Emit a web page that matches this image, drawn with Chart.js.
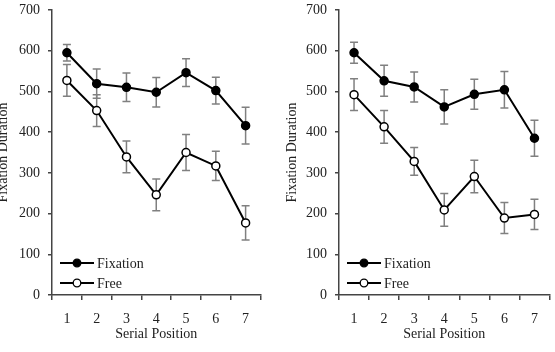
<!DOCTYPE html>
<html>
<head>
<meta charset="utf-8">
<script src="https://cdn.jsdelivr.net/npm/chart.js@4.4.1/dist/chart.umd.min.js"></script>
<style>
  body { margin: 0; background: #fff; width: 555px; height: 352px; overflow: hidden; position: relative; }
  canvas { position: absolute; top: 0; }
  #leftChart { left: -4px; }
  #rightChart { left: 285px; }
</style>
</head>
<body>
<canvas id="leftChart" width="270" height="352"></canvas>
<canvas id="rightChart" width="270" height="352"></canvas>
<script>
// Data
const positions = ['1', '2', '3', '4', '5', '6', '7'];
const yTicks = [0, 100, 200, 300, 400, 500, 600, 700];

const leftFixation = [595, 519, 510, 498, 546, 502, 416];
const leftFixationErr = [20, 36, 35, 36, 34, 33, 45];
const leftFree = [527, 453, 339, 246, 350, 317, 177];
const leftFreeErr = [39, 39, 39, 39, 44, 36, 42];

const rightFixation = [595, 526, 511, 462, 493, 504, 385];
const rightFixationErr = [26, 38, 37, 42, 37, 45, 44];
const rightFree = [492, 413, 328, 209, 291, 189, 198];
const rightFreeErr = [39, 40, 34, 40, 40, 38, 37];

const FONT = '"Liberation Serif", "DejaVu Serif", serif';

// error bars, drawn under the lines and markers
const errorBars = {
    id: 'errorBars',
    beforeDatasetsDraw(chart) {
        const ctx = chart.ctx;
        const y = chart.scales.y;
        ctx.save();
        ctx.strokeStyle = '#808080';
        ctx.lineWidth = 1.5;
        chart.data.datasets.forEach((ds, i) => {
            const meta = chart.getDatasetMeta(i);
            meta.data.forEach((pt, j) => {
                const v = ds.data[j], e = ds.errors[j];
                const top = y.getPixelForValue(v + e);
                const bot = y.getPixelForValue(v - e);
                ctx.beginPath();
                ctx.moveTo(pt.x, top); ctx.lineTo(pt.x, bot);
                ctx.moveTo(pt.x - 4, top); ctx.lineTo(pt.x + 4, top);
                ctx.moveTo(pt.x - 4, bot); ctx.lineTo(pt.x + 4, bot);
                ctx.stroke();
            });
        });
        ctx.restore();
    }
};

// legend in the lower left corner of the plot
const innerLegend = {
    id: 'innerLegend',
    afterDraw(chart) {
        const ctx = chart.ctx;
        const area = chart.chartArea;
        const x0 = area.left + 8;
        const rows = [area.bottom - 32, area.bottom - 12];
        ctx.save();
        chart.data.datasets.forEach((ds, i) => {
            const yy = rows[i];
            ctx.strokeStyle = '#000';
            ctx.lineWidth = 2;
            ctx.beginPath();
            ctx.moveTo(x0, yy); ctx.lineTo(x0 + 34, yy);
            ctx.stroke();
            ctx.beginPath();
            ctx.arc(x0 + 17, yy, 3.8, 0, Math.PI * 2);
            ctx.fillStyle = ds.pointBackgroundColor;
            ctx.fill();
            ctx.lineWidth = 1.3;
            ctx.stroke();
            ctx.fillStyle = '#222';
            ctx.font = '14px ' + FONT;
            ctx.textBaseline = 'middle';
            ctx.fillText(ds.label, x0 + 37, yy + 1);
        });
        ctx.restore();
    }
};

function makeChart(id, fixation, fixationErr, free, freeErr, axisWidth) {
    return new Chart(document.getElementById(id).getContext('2d'), {
        type: 'line',
        data: {
            labels: positions,
            datasets: [{
                label: 'Fixation',
                data: fixation,
                errors: fixationErr,
                borderColor: '#000',
                borderWidth: 2,
                pointBackgroundColor: '#000',
                pointBorderColor: '#000',
                pointBorderWidth: 1.5,
                pointRadius: 4,
                tension: 0
            }, {
                label: 'Free',
                data: free,
                errors: freeErr,
                borderColor: '#000',
                borderWidth: 2,
                pointBackgroundColor: '#fff',
                pointBorderColor: '#000',
                pointBorderWidth: 1.5,
                pointRadius: 4,
                tension: 0
            }]
        },
        options: {
            responsive: false,
            animation: false,
            layout: { padding: { top: 10, right: 3, bottom: 0, left: 0 } },
            plugins: { legend: { display: false }, tooltip: { enabled: false } },
            scales: {
                x: {
                    offset: true,
                    grid: { offset: true, drawOnChartArea: false, tickLength: 5, color: '#444', lineWidth: 1.5 },
                    border: { color: '#444', width: 1.5 },
                    ticks: { color: '#222', font: { family: FONT, size: 14 }, padding: 11 },
                    title: { display: true, text: 'Serial Position', color: '#222',
                             font: { family: FONT, size: 14, lineHeight: 1 }, padding: { top: 0, bottom: 11 } },
                    afterFit: (s) => { s.height = 57; s.paddingLeft = 0; s.paddingRight = 0; }
                },
                y: {
                    min: 0,
                    max: 700,
                    afterBuildTicks: (s) => { s.ticks = yTicks.map(v => ({ value: v })); },
                    grid: { drawOnChartArea: false, tickLength: 4, color: '#444', lineWidth: 1.5 },
                    border: { color: '#444', width: 1.5 },
                    ticks: { color: '#222', font: { family: FONT, size: 14 }, padding: 8 },
                    title: { display: true, text: 'Fixation Duration', color: '#222',
                             font: { family: FONT, size: 14, lineHeight: 1 }, padding: { top: 0, bottom: 0 } },
                    afterFit: (s) => { s.width = axisWidth; s.paddingTop = 0; s.paddingBottom = 0; }
                }
            }
        },
        plugins: [errorBars, innerLegend]
    });
}

makeChart('leftChart', leftFixation, leftFixationErr, leftFree, leftFreeErr, 56);
makeChart('rightChart', rightFixation, rightFixationErr, rightFree, rightFreeErr, 54);
</script>
</body>
</html>
